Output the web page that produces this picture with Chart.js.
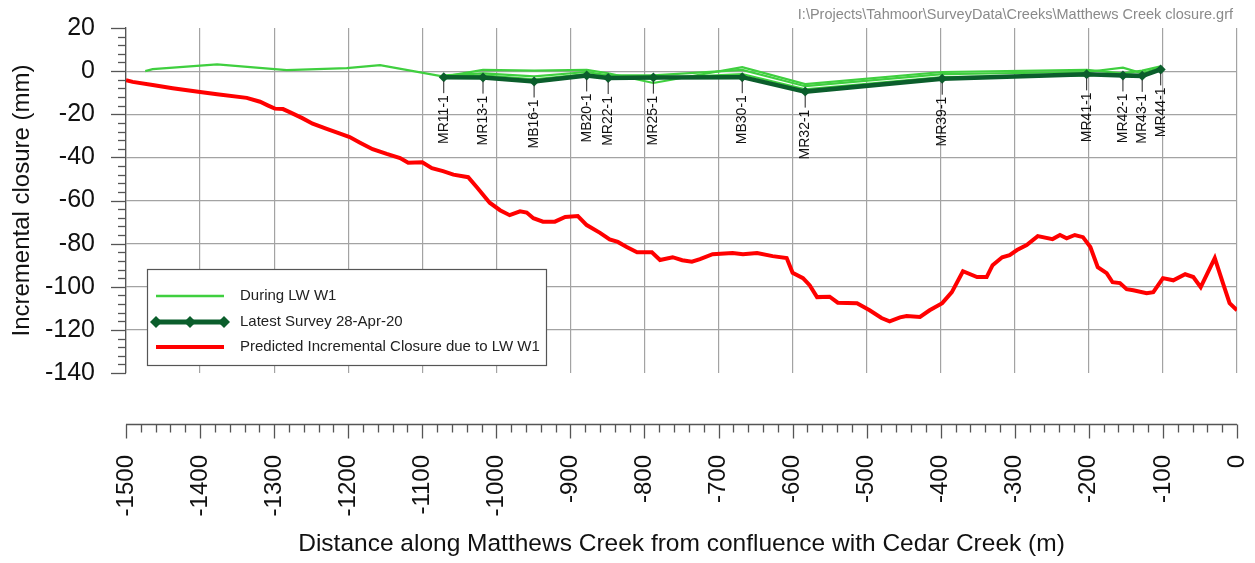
<!DOCTYPE html>
<html><head><meta charset="utf-8">
<script src="https://cdn.jsdelivr.net/npm/chart.js@4.4.1/dist/chart.umd.min.js"></script>
<style>html,body{margin:0;padding:0;background:#fff;}canvas{display:block;}</style>
</head><body>
<canvas id="c" width="1255" height="563"></canvas>
<script>
// ---- Data ----
const predX = [-1500,-1491,-1464,-1437,-1400,-1377,-1337,-1319,-1308,-1299,-1288,-1279,-1262,-1248,-1229,-1211,-1198,-1184,-1167,-1148,-1130,-1119,-1100,-1087,-1072,-1058,-1038,-1026,-1009,-995,-982,-968,-959,-950,-937,-921,-907,-890,-878,-860,-847,-836,-824,-810,-790,-779,-762,-749,-736,-725,-708,-681,-667,-648,-627,-608,-600,-586,-577,-567,-550,-539,-513,-496,-480,-469,-455,-446,-428,-415,-398,-385,-370,-351,-338,-330,-317,-307,-297,-284,-269,-249,-239,-230,-219,-208,-198,-188,-176,-168,-158,-149,-140,-122,-113,-100,-86,-70,-59,-49,-30,-19,-10,0];
const predY = [-4.2,-5.0,-6.4,-7.9,-9.7,-10.7,-12.4,-14.2,-16.0,-17.4,-17.6,-19.0,-21.8,-24.4,-26.8,-29.0,-30.6,-33.2,-36.2,-38.4,-40.3,-42.5,-42.3,-45.0,-46.4,-48.0,-49.2,-54.0,-61.0,-64.5,-66.8,-65.0,-65.6,-68.2,-69.8,-69.8,-67.6,-67.2,-71.4,-75.0,-78.0,-79.2,-81.6,-84.0,-84.0,-87.6,-86.3,-87.7,-88.4,-87.2,-84.9,-84.4,-84.9,-84.4,-85.8,-86.7,-93.5,-96.0,-99.3,-104.8,-104.6,-107.4,-107.6,-110.9,-114.5,-116.0,-114.2,-113.6,-114.0,-110.9,-107.6,-102.5,-92.8,-95.5,-95.5,-90.0,-86.3,-85.3,-83.0,-80.7,-76.5,-77.9,-76.0,-77.5,-76.0,-77.0,-81.6,-90.9,-93.7,-97.9,-98.3,-101.1,-101.6,-103.0,-102.5,-96.0,-97.0,-94.2,-95.5,-100.2,-86.7,-98.3,-107.6,-110.9];

const duringAX = [-1474,-1464,-1377,-1283,-1202,-1157,-1071,-1018,-949,-878,-849,-788,-668,-583,-398,-203,-154,-128,-103];
const duringAY = [0,0.9,3.1,0.5,1.4,2.8,-2.5,0.6,0.2,0.6,-1.0,-5.5,1.8,-6.0,-0.4,0.6,-1.0,0.2,2.2];

const stationX = [-1071,-1018,-949,-878,-849,-788,-668,-583,-398,-203,-154,-128,-103];
const stationLabels = ['MR11-1','MR13-1','MB16-1','MB20-1','MR22-1','MR25-1','MB30-1','MR32-1','MR39-1','MR41-1','MR42-1','MR43-1','MR44-1'];
const duringBY = [-2.0,-1.0,-2.4,-0.4,-2.0,-2.0,0.6,-7.0,-1.4,-0.4,1.6,-1.0,1.6];
const duringCY = [-3.0,-2.0,-3.8,-1.4,-2.8,-3.4,-1.4,-8.4,-2.8,-2.0,-1.4,-2.0,1.0];
const latestY  = [-2.8,-3.0,-4.8,-2.0,-3.2,-3.0,-2.8,-9.5,-3.5,-1.5,-2.0,-2.2,0.8];

const yTickValues = [20,0,-20,-40,-60,-80,-100,-120,-140];
const xTickValues = [-1500,-1400,-1300,-1200,-1100,-1000,-900,-800,-700,-600,-500,-400,-300,-200,-100,0];

const seriesNames = ['During LW W1','Latest Survey 28-Apr-20','Predicted Incremental Closure due to LW W1'];
const filePath = 'I:\\Projects\\Tahmoor\\SurveyData\\Creeks\\Matthews Creek closure.grf';
const xTitle = 'Distance along Matthews Creek from confluence with Cedar Creek (m)';
const yTitle = 'Incremental closure (mm)';

// ---- Build ----
const zip = (xs, ys) => xs.map((x, i) => ({x, y: ys[i]}));
const FONT = '"Liberation Sans", Arial, sans-serif';
const LIGHT = '#3fcf3f', DARK = '#0b5e2c', RED = '#ff0000';
const AXIS = '#555555', GRID = '#a3a3a3';

const stationPlugin = {
  id: 'stations',
  afterDatasetsDraw(chart) {
    const meta = chart.getDatasetMeta(3);
    const ctx = chart.ctx;
    ctx.save();
    ctx.font = '14px ' + FONT;
    ctx.fillStyle = '#111';
    ctx.strokeStyle = '#222';
    ctx.lineWidth = 1;
    meta.data.forEach((p, i) => {
      const top = p.y + 18;
      ctx.beginPath(); ctx.moveTo(p.x, p.y + 4); ctx.lineTo(p.x, top - 2); ctx.stroke();
      ctx.save();
      ctx.translate(p.x, top);
      ctx.rotate(-Math.PI / 2);
      ctx.textAlign = 'right'; ctx.textBaseline = 'middle';
      ctx.fillText(stationLabels[i], 0, 0);
      ctx.restore();
    });
    ctx.restore();
  }
};

const decorPlugin = {
  id: 'decor',
  afterDraw(chart) {
    const {ctx, chartArea: a, scales: {x, y}} = chart;
    ctx.save();
    // detached x axis line + ticks
    const axY = Math.round(a.bottom + 51) + 0.5;
    ctx.strokeStyle = AXIS; ctx.lineWidth = 1.3;
    ctx.beginPath(); ctx.moveTo(x.left, axY); ctx.lineTo(x.right, axY); ctx.stroke();
    for (let v = xTickValues[0]; v <= xTickValues[xTickValues.length - 1]; v += 20) {
      const px = Math.round(x.getPixelForValue(v)) + 0.5;
      const len = (v % 100 === 0) ? 14 : 8;
      ctx.beginPath(); ctx.moveTo(px, axY); ctx.lineTo(px, axY + len); ctx.stroke();
    }
    // y ticks
    const yMin = yTickValues[yTickValues.length - 1], yMax = yTickValues[0];
    for (let v = yMin; v <= yMax; v += 4) {
      const py = Math.round(y.getPixelForValue(v)) + 0.5;
      const len = (v % 20 === 0) ? 15 : 8;
      ctx.beginPath(); ctx.moveTo(a.left - len, py); ctx.lineTo(a.left, py); ctx.stroke();
    }
    // file path
    ctx.font = '14.5px ' + FONT;
    ctx.fillStyle = '#8a8a8a';
    ctx.textAlign = 'right'; ctx.textBaseline = 'middle';
    ctx.fillText(filePath, 1233, 15);
    // legend
    const L = 147, T = 269, W = 399, H = 96;
    ctx.fillStyle = '#fff';
    ctx.fillRect(L, T, W, H);
    ctx.strokeStyle = '#555'; ctx.lineWidth = 1.2;
    ctx.strokeRect(L + 0.5, T + 0.5, W, H);
    const rows = [296, 322, 347];
    const ds = chart.data.datasets;
    const legendDs = [ds[0], ds[3], ds[4]];
    ctx.font = '15px ' + FONT;
    ctx.textAlign = 'left'; ctx.textBaseline = 'middle';
    legendDs.forEach((d, i) => {
      const ry = rows[i];
      ctx.strokeStyle = d.borderColor;
      ctx.lineWidth = i === 0 ? 2.5 : (i === 1 ? 5 : 4);
      ctx.beginPath(); ctx.moveTo(156, ry); ctx.lineTo(224, ry); ctx.stroke();
      if (i === 1) {
        ctx.fillStyle = DARK;
        [156, 190, 224].forEach(cx => {
          ctx.beginPath();
          ctx.moveTo(cx, ry - 6); ctx.lineTo(cx + 6, ry); ctx.lineTo(cx, ry + 6); ctx.lineTo(cx - 6, ry);
          ctx.closePath(); ctx.fill();
        });
      }
      ctx.fillStyle = '#222';
      ctx.fillText(d.label, 240, ry);
    });
    ctx.restore();
  }
};

new Chart(document.getElementById('c'), {
  type: 'line',
  data: {
    datasets: [
      {label: seriesNames[0], data: zip(duringAX, duringAY), borderColor: LIGHT, borderWidth: 2.2, pointRadius: 0, tension: 0, order: 3},
      {label: seriesNames[0] + ' b', data: zip(stationX, duringBY), borderColor: LIGHT, borderWidth: 2.2, pointRadius: 0, tension: 0, order: 3},
      {label: seriesNames[0] + ' c', data: zip(stationX, duringCY), borderColor: LIGHT, borderWidth: 2.2, pointRadius: 0, tension: 0, order: 3},
      {label: seriesNames[1], data: zip(stationX, latestY), borderColor: DARK, backgroundColor: DARK, borderWidth: 4.5,
        pointStyle: 'rectRot', pointRadius: 5, pointBorderWidth: 0, pointBackgroundColor: DARK, tension: 0, order: 2},
      {label: seriesNames[2], data: zip(predX, predY), borderColor: RED, borderWidth: 4, pointRadius: 0, tension: 0, order: 1}
    ]
  },
  options: {
    responsive: false,
    animation: false,
    devicePixelRatio: 1,
    layout: {padding: {left: 0, right: 18, top: 28, bottom: 0}},
    plugins: {legend: {display: false}, tooltip: {enabled: false}},
    scales: {
      x: {
        type: 'linear', min: -1500, max: 0,
        afterFit(s) { s.height = 190; s.paddingLeft = 0; s.paddingRight = 0; },
        afterBuildTicks(s) { s.ticks = xTickValues.map(v => ({value: v})); },
        ticks: {autoSkip: false, minRotation: 90, maxRotation: 90, padding: 82, color: '#111',
          font: {family: FONT, size: 24}, callback: v => String(v)},
        grid: {color: GRID, lineWidth: 1.2, drawTicks: false},
        border: {display: false},
        title: {display: true, text: xTitle, color: '#111', font: {family: FONT, size: 24.5}, padding: {top: 4, bottom: 4}}
      },
      y: {
        type: 'linear', min: -140, max: 20,
        afterFit(s) { s.width = 126; s.paddingTop = 0; s.paddingBottom = 0; },
        afterBuildTicks(s) { s.ticks = yTickValues.map(v => ({value: v})); },
        ticks: {autoSkip: false, padding: 31, color: '#111', font: {family: FONT, size: 25}, callback: v => String(v)},
        grid: {drawTicks: false, lineWidth: 1.2,
          color: c => (c.tick && (c.tick.value === 20 || c.tick.value === -140)) ? 'rgba(0,0,0,0)' : GRID},
        border: {display: true, color: AXIS, width: 1.3},
        title: {display: true, text: yTitle, color: '#111', font: {family: FONT, size: 24}, padding: {top: 8, bottom: 4}}
      }
    }
  },
  plugins: [stationPlugin, decorPlugin]
});
</script>
</body></html>
